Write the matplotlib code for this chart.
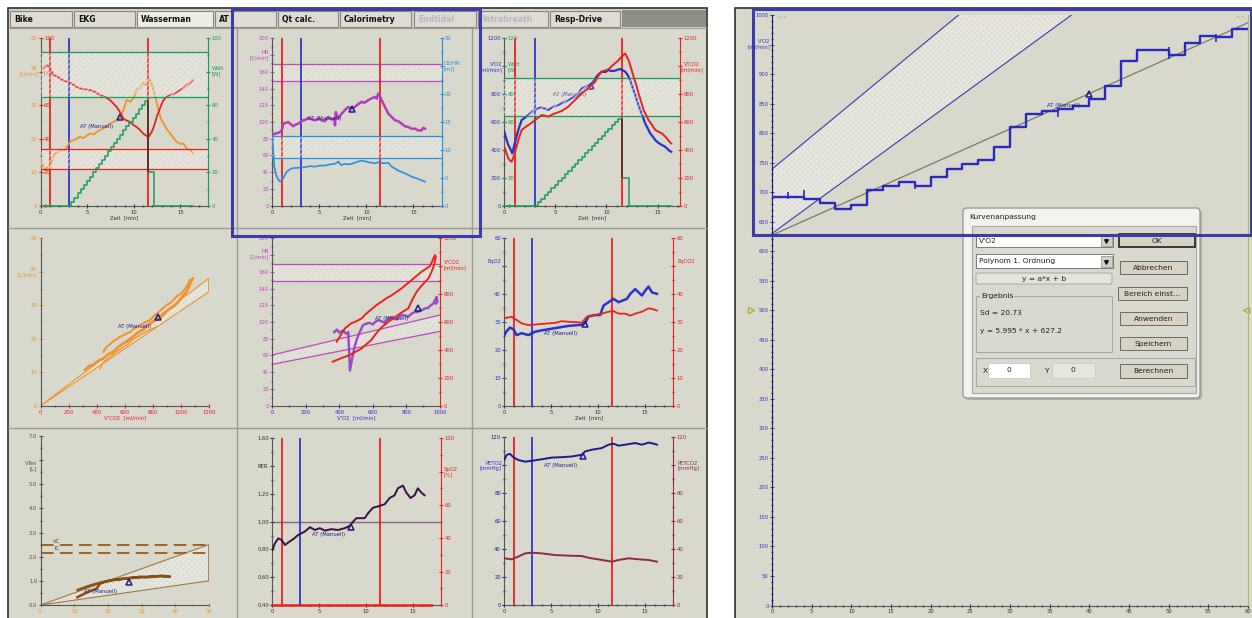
import matplotlib
matplotlib.use('Agg')
import matplotlib.pyplot as plt
from matplotlib.patches import Rectangle, FancyBboxPatch, Polygon
from matplotlib.ticker import MultipleLocator

# ======================= DATA =======================
T_START, T_AT, T_END = 1.0, 3.0, 11.5          # marker lines [min]
AT_TXT = 'AT (Manuell)'

# work-rate ramp (steps) [min] / [W]
watt_t = [0, 3.30, 3.63, 3.96, 4.28, 4.61, 4.94, 5.27, 5.60, 5.92, 6.25, 6.58, 6.91, 7.24, 7.56,
          7.89, 8.22, 8.55, 8.88, 9.20, 9.53, 9.86, 10.19, 10.52, 10.84, 11.17, 11.5, 12.2, 16.4]
watt_w = [0, 2.5, 5.0, 7.5, 10.0, 12.5, 15.0, 17.5, 20.0, 22.5, 25.0, 27.5, 30.0, 32.5, 35.0,
          37.5, 40.0, 42.5, 45.0, 47.5, 50.0, 52.5, 55.0, 57.5, 60.0, 62.5, 20, 0, 0]
watt_peak, watt_recovery = 62.5, 20

# panel 1: VE and red trace
ve_t = [0, 0.2, 0.47, 0.7, 1.0, 1.2, 1.54, 1.9, 2.3, 2.61, 3.15, 3.5, 3.9, 4.22, 4.6, 5.0, 5.3, 5.7,
        6.0, 6.37, 6.8, 7.1, 7.45, 7.8, 8.2, 8.52, 8.88, 9.24, 9.6, 9.95, 10.31, 10.7, 11.03, 11.3,
        11.67, 11.9, 12.1, 12.4, 12.64, 12.9, 13.18, 13.5, 13.9, 14.2, 14.6, 15.0, 15.3, 15.6, 15.86,
        16.1, 16.33]
ve = [13.6, 12.5, 10.7, 11.5, 11.2, 13.5, 15.6, 16.0, 16.8, 16.6, 19.1, 19.6, 20.0, 20.6, 20.2, 21.0,
      21.6, 21.3, 22.0, 22.6, 23.2, 23.8, 24.6, 25.0, 25.6, 26.1, 28.6, 31.6, 31.0, 32.0, 34.6, 35.2,
      36.6, 36.0, 38.0, 36.5, 34.6, 31.5, 28.6, 26.0, 24.6, 23.0, 21.6, 20.5, 19.1, 18.5, 18.6, 17.5,
      16.6, 16.8, 15.6]
p1r_t = [0, 0.3, 0.64, 0.85, 1.0, 1.36, 1.8, 2.3, 2.79, 3.3, 3.8, 4.22, 4.7, 5.3, 5.8, 6.37, 6.9, 7.45,
         7.8, 8.16, 8.5, 8.88, 9.2, 9.6, 10.0, 10.31, 10.7, 11.03, 11.3, 11.56, 11.92, 12.2, 12.46, 12.8,
         13.18, 13.5, 13.9, 14.4, 14.97, 15.3, 15.68, 16.0, 16.33]
p1r = [81, 82, 84, 83, 82, 78, 77, 75, 74, 73, 71, 70, 69.5, 69, 68, 66, 65, 63, 61, 59, 56, 52, 51, 50,
       48, 47, 45, 43, 42, 41, 44, 48, 53, 58, 63, 65, 66, 67, 69, 70, 72, 73, 75]
p1_watt_band = [91.4, 64.7]
p1_red_band = [33.7, 21.9]
p1_at = (8.5, 26.4)

# panel 2: HR and O2/HR
hr_t = [0, 0.28, 0.6, 0.82, 1.0, 1.17, 1.45, 1.70, 2.0, 2.23, 2.5, 2.77, 3.0, 3.30, 3.6, 3.83, 4.2, 4.54,
        4.9, 5.25, 5.6, 5.96, 6.3, 6.6, 6.67, 6.75, 7.0, 7.38, 7.7, 8.09, 8.4, 8.79, 9.1, 9.50, 9.8,
        10.21, 10.5, 10.92, 11.1, 11.28, 11.45, 11.63, 11.9, 12.34, 12.7, 13.05, 13.4, 13.76, 14.1,
        14.47, 14.8, 15.18, 15.5, 15.89, 16.05, 16.24]
hr = [84.5, 86, 87, 88, 90, 98, 99, 100, 97, 95, 97, 98, 100, 102, 103, 105, 103, 102, 104, 102, 101,
      106, 103, 104, 96, 112, 104, 110, 114, 118, 116, 118, 121, 124, 123, 126, 128, 130, 128, 134, 131,
      126, 120, 110, 106, 102, 101, 98, 95, 94, 92, 92, 90, 90, 93, 92]
o2hr_t = [0, 0.21, 0.46, 0.82, 1.17, 1.53, 2.06, 2.77, 3.48, 4.0, 4.54, 5.1, 5.6, 6.1, 6.67, 7.02, 7.3,
          7.73, 8.2, 8.79, 9.5, 10.21, 10.92, 11.3, 11.8, 12.34, 12.7, 13.4, 14.1, 14.82, 15.53, 16.24]
o2hr = [12.4, 7.0, 5.2, 4.3, 4.9, 6.1, 6.7, 6.8, 6.9, 7.1, 7.0, 7.2, 7.2, 7.4, 7.5, 7.9, 7.3, 7.5, 7.4,
        7.7, 8.1, 7.8, 7.6, 7.8, 7.6, 7.7, 7.0, 6.3, 5.8, 5.2, 4.8, 4.3]
p2_hr_band = [169, 149]
p2_o2hr_band = [12.5, 8.6]
p2_at = (8.44, 116)

# panel 3: VO2 / VCO2 over time
vo2_t = [0, 0.23, 0.39, 0.65, 0.78, 0.98, 1.37, 1.70, 2.0, 2.35, 2.7, 3.0, 3.3, 3.66, 4.0, 4.31, 4.6,
         4.97, 5.3, 5.62, 5.95, 6.27, 6.6, 6.93, 7.25, 7.58, 7.9, 8.24, 8.56, 8.89, 9.2, 9.54, 9.9, 10.2,
         10.5, 10.85, 11.1, 11.34, 11.6, 11.83, 12.1, 12.32, 12.55, 12.81, 13.05, 13.3, 13.55, 13.79,
         14.0, 14.28, 14.5, 14.77, 15.1, 15.42, 15.7, 15.92, 16.15, 16.34]
vo2 = [531, 471, 435, 399, 375, 435, 543, 614, 630, 650, 672, 686, 700, 703, 695, 686, 700, 715, 722,
       734, 745, 758, 770, 782, 800, 841, 850, 865, 877, 913, 940, 961, 958, 973, 965, 968, 975, 980,
       970, 961, 935, 901, 850, 794, 740, 686, 640, 590, 560, 519, 500, 471, 450, 435, 425, 411, 395, 387]
vco2_t = [0, 0.2, 0.39, 0.55, 0.72, 0.98, 1.37, 1.70, 2.0, 2.35, 2.7, 3.0, 3.3, 3.66, 4.0, 4.31, 4.6,
          4.97, 5.3, 5.62, 5.95, 6.27, 6.6, 6.93, 7.25, 7.58, 7.9, 8.24, 8.56, 8.89, 9.2, 9.54, 9.9,
          10.2, 10.5, 10.85, 11.2, 11.5, 11.83, 12.16, 12.4, 12.65, 12.9, 13.14, 13.4, 13.63, 13.9,
          14.12, 14.45, 14.77, 15.1, 15.42, 15.7, 15.92, 16.15, 16.34]
vco2 = [423, 380, 339, 325, 315, 363, 471, 543, 560, 578, 595, 614, 630, 650, 645, 638, 650, 662, 670,
        679, 695, 710, 735, 758, 780, 806, 825, 841, 865, 889, 930, 961, 970, 978, 1000, 1021, 1045,
        1068, 1092, 1045, 990, 925, 870, 806, 745, 686, 650, 614, 580, 543, 530, 519, 500, 483, 460, 447]
p3_watt_band = [91.6, 64.5]
p3_at = (8.5, 861)

# panel 4: VE vs VCO2
p4_up_vco2 = [317, 345, 376, 410, 448, 480, 519, 555, 590, 625, 662, 700, 733, 770, 805, 840, 876, 910,
              948, 970, 995, 1020, 1043, 1065, 1086]
p4_up_ve = [10.7, 11.8, 12.2, 13.4, 14.1, 15.3, 16.1, 17.6, 18.6, 19.4, 20.6, 22.0, 22.6, 24.2, 25.1,
            26.0, 27.1, 28.6, 29.6, 30.4, 31.6, 33.0, 34.1, 36.2, 38.0]
p4_dn_vco2 = [1067, 1040, 1007, 975, 948, 925, 900, 870, 840, 810, 781, 745, 710, 685, 662, 640, 614,
              590, 567, 540, 519, 495, 471, 460, 448]
p4_dn_ve = [37.6, 35.5, 33.6, 32.8, 31.6, 30.6, 30.1, 29.0, 27.9, 26.9, 25.6, 24.9, 24.1, 23.4, 22.9,
            22.0, 21.6, 21.0, 20.6, 19.8, 19.3, 18.3, 17.6, 16.9, 16.1]
p4_lo_vco2 = [424, 440, 470, 495, 550, 614, 660, 710, 770, 829]
p4_lo_ve = [11.0, 12.6, 13.8, 14.6, 16.4, 18.1, 19.8, 21.1, 22.5, 23.6]
p4_ref_vco2 = [0, 1200, 1200]
p4_ref_ve = [0, 38, 34]
p4_at = (840, 26.5)

# panel 5: HR and VCO2 vs VO2
p5_red_vo2 = [360, 380, 400, 434, 460, 480, 510, 533, 560, 590, 612, 650, 692, 720, 750, 780, 811, 835,
              861, 890, 931, 950, 965, 975, 970, 955, 940, 915, 891, 860, 830, 800, 771, 740, 710, 680,
              652, 620, 590, 560, 533, 500, 470, 434, 410, 384]
p5_red_vco2 = [315, 325, 335, 351, 362, 375, 395, 411, 440, 470, 507, 560, 602, 625, 650, 675, 698, 760,
               817, 860, 913, 960, 1010, 1065, 1080, 1040, 1000, 980, 961, 930, 900, 870, 841, 815, 790,
               770, 746, 720, 690, 660, 626, 605, 590, 555, 510, 459]
p5_hr_vo2 = [370, 385, 400, 420, 440, 453, 458, 463, 475, 490, 505, 517, 540, 560, 580, 600, 612, 630,
             650, 670, 692, 715, 740, 765, 791, 810, 830, 850, 867, 890, 910, 930, 945, 960, 970, 980,
             985, 975]
p5_hr = [88, 91, 87, 90, 86, 88, 65, 42, 55, 70, 80, 86, 96, 98, 99, 97, 100, 102, 101, 99, 104, 106,
         103, 108, 108, 106, 110, 112, 112, 114, 116, 117, 120, 122, 126, 130, 124, 122]
p5_hr_band = [169.3, 149.4]
p5_ref_vo2 = [0, 1000]
p5_ref_hr_hi = [60.6, 108.4]
p5_ref_hr_lo = [49.4, 88.8]
p5_at = (867, 116.3)

# panel 6: EqO2 / EqCO2
eqo2_t = [0, 0.25, 0.6, 0.96, 1.32, 1.85, 2.56, 3.27, 3.99, 4.7, 5.77, 6.83, 7.54, 8.26, 8.61, 8.97,
          9.68, 10.21, 10.57, 11.1, 11.64, 12.17, 12.53, 13.06, 13.42, 13.95, 14.31, 14.66, 15.02,
          15.37, 15.73, 16.26]
eqo2 = [25.3, 26.7, 28, 27.4, 25.3, 26, 25.3, 26.5, 27, 27.4, 28, 28.6, 28.8, 29, 29.6, 32, 32.5, 32.5,
        35.9, 37.1, 38.3, 37.1, 37.6, 38.3, 40.1, 41.8, 40.6, 39.5, 41.3, 42.7, 40.6, 40.1]
eqco2_t = [0, 0.78, 1.32, 1.85, 2.56, 3.99, 5.41, 6.12, 7.19, 8.26, 8.79, 9.68, 10.39, 11.1, 11.64,
           12.17, 12.88, 13.42, 13.95, 14.66, 15.37, 15.73, 16.26]
eqco2 = [31.3, 31.9, 30.7, 29.5, 28.9, 29.3, 29.7, 30.3, 30, 29.8, 31.9, 32.5, 33, 33.7, 33.9, 33, 33,
         32.3, 33, 33.7, 34.9, 34.7, 34.1]
p6_at = (8.6, 29.2)

# panel 7: VT vs VE
p7_ve = [10.9, 12.3, 13.7, 15.2, 16.7, 17.7, 19.6, 21.6, 23.5, 25.6, 27.5, 29.6, 31.5, 33.5, 35.5, 37.5,
         38.5, 36.0, 33.0, 30.0, 27.0, 24.0, 21.0, 18.5, 16.0, 13.5, 11.0]
p7_vt = [0.32, 0.42, 0.51, 0.6, 0.69, 0.89, 0.98, 1.04, 1.06, 1.11, 1.13, 1.17, 1.16, 1.19, 1.2, 1.17,
         1.18, 1.21, 1.16, 1.15, 1.12, 1.08, 1.02, 0.95, 0.86, 0.75, 0.62]
p7_ref_ve = [0, 50, 50]
p7_ref_vt = [0, 2.5, 1.0]
VC, IC = 2.5, 2.15
p7_at = (26.4, 0.94)

# panel 8: RER / SpO2
rer_t = [0, 0.28, 0.64, 0.99, 1.35, 1.70, 2.23, 2.77, 3.48, 4.01, 4.54, 5.07, 5.6, 6.31, 7.02, 7.73,
         8.26, 8.62, 8.97, 9.86, 10.21, 10.74, 11.28, 11.99, 12.52, 13.05, 13.4, 13.94, 14.29, 14.75,
         15.18, 15.53, 15.89, 16.24]
rer = [0.796, 0.844, 0.88, 0.868, 0.832, 0.85, 0.874, 0.905, 0.929, 0.96, 0.94, 0.953, 0.936, 0.946,
       0.94, 0.953, 0.97, 1.0, 1.025, 1.025, 1.06, 1.1, 1.11, 1.125, 1.17, 1.19, 1.24, 1.26, 1.21, 1.17,
       1.19, 1.24, 1.21, 1.19]
spo2_t = [0, 16.9]
spo2 = [0, 0]
p8_at = (8.44, 0.964)

# panel 9: PETO2 / PETCO2
peto2_t = [0, 0.25, 0.6, 0.96, 1.49, 2.21, 3.1, 3.99, 5.05, 6.12, 7.19, 8.26, 8.61, 9.32, 10.39, 11.1,
           11.64, 12.17, 12.88, 13.95, 14.66, 15.37, 15.91, 16.26]
peto2 = [103.4, 107, 107.8, 105.4, 103.4, 102.2, 103, 103.9, 105.1, 105.4, 105.9, 107.1, 109.5, 110.7,
         111.9, 114.3, 115, 113.6, 114.3, 115.5, 114.3, 115.8, 115, 114.3]
petco2_t = [0, 0.78, 1.49, 2.21, 2.99, 3.99, 5.41, 6.83, 8.26, 8.97, 10.39, 11.46, 12.17, 13.24, 14.31,
            15.37, 16.26]
petco2 = [33.3, 32.6, 34.5, 36.8, 37.3, 36.8, 35.6, 35.2, 34.9, 33.7, 32.1, 30.9, 32.1, 33.3, 32.6,
          32.1, 30.9]
p9_at = (8.43, 106.2)

# right screenshot: V'O2 steps + linear fit
rp_x = [0, 2, 4, 6, 8, 10, 12, 14, 16, 18, 20, 22, 24, 26, 28, 30, 32, 34, 36, 38, 40, 42, 44, 46, 48,
        50, 52, 54, 56, 58, 60]
rp_vo2 = [691, 692, 689, 681, 672, 678, 703, 710, 718, 710, 726, 740, 748, 754, 776, 811, 832, 838, 840,
          846, 858, 880, 922, 940, 940, 932, 953, 965, 962, 976, 976]
rp_spk_x = [2, 4, 18, 36, 50, 56]
rp_spk_lo = [689, 688, 705, 828, 925, 955]
rp_spk_hi = [700, 703, 718, 840, 945, 968]
fit_a, fit_b = 5.995, 627.2
fit_x = [0, 60]
band_x = [0, 60]
band_hi = [739, 1405]
band_lo = [630, 1218]
rp_at = (40, 866)
rp_yticks = list(range(0, 1001, 50))
rp_ylabels = ['' if v == 950 else str(v) for v in rp_yticks]

# ======================= STYLE =======================
plt.rcParams['font.family'] = ['DejaVu Sans']
plt.rcParams['hatch.linewidth'] = 0.5
W, H = 1252, 618
BG = '#d8d8cd'
DARK = '#303030'
ORANGE = '#f0922c'
RED = '#e8221c'
GREEN = '#1c9a5c'
BLUEV = '#3038c8'
BLUE = '#2a32c8'
NAVY = '#1c1c8a'
MAGENTA = '#c048c0'
LBLUE = '#2a8ee0'
PURPLE = '#9a48c4'
MAROON = '#902848'
BROWN = '#9a5a14'
HATCH = '#ecece5'
FACE = (1, 1, 1, 0.16)
FS = 3.8

fig = plt.figure(figsize=(W / 100, H / 100), dpi=100, facecolor='white')


def rect(x0, y0, x1, y1):
    return [x0 / W, 1 - y1 / H, (x1 - x0) / W, (y1 - y0) / H]


# ---------------- background / frames ----------------
bg = fig.add_axes([0, 0, 1, 1])
bg.set_zorder(0)
bg.set_xlim(0, W); bg.set_ylim(H, 0); bg.axis('off')
bg.add_patch(Rectangle((8, 8), 699, 612, facecolor=BG, edgecolor='#303030', lw=1.2))
bg.add_patch(Rectangle((735, 8), 519, 612, facecolor=BG, edgecolor='#303030', lw=1.2))
bg.add_patch(Rectangle((9, 9), 697, 19, facecolor='#d4d0c8', edgecolor='none'))
bg.add_patch(Rectangle((622, 10), 84, 17, facecolor='#8e8e86', edgecolor='none'))
tabs = [('Bike', 10, 72, 'n'), ('EKG', 74, 135, 'n'), ('Wasserman', 137, 213, 'a'), ('AT', 215, 276, 'n'),
        ('Qt calc.', 278, 338, 'n'), ('Calorimetry', 340, 411, 'n'), ('Endtidal', 414, 476, 'd'),
        ('Intrabreath', 478, 548, 'd'), ('Resp-Drive', 550, 620, 'n')]
for name, x0, x1, st in tabs:
    fc = '#eeede6' if st == 'a' else '#dedbd2'
    bg.add_patch(Rectangle((x0, 11), x1 - x0, 16, facecolor=fc, edgecolor='#8a8a84', lw=0.8))
    bg.text(x0 + 4, 19.5, name, fontsize=5.6, fontweight='bold', va='center', ha='left',
            color='#b8b8c4' if st == 'd' else '#101010')
bg.hlines([228, 428], 8, 707, color='#9c9c94', lw=1.0)
bg.vlines([237, 472], 28, 618, color='#9c9c94', lw=1.0)
bg.hlines(28, 8, 707, color='#9c9c94', lw=0.8)


def lab(x, y, s, col, ha='right'):
    bg.text(x, y, s, color=col, fontsize=FS, ha=ha, va='center', linespacing=1.05)


# ---------------- helpers ----------------
def base_axes(px, xlim, ylim, xt, xminor, yt, ylab, yminor, ycol, xcol=DARK, xlab=None, xlabcol=None):
    ax = fig.add_axes(rect(*px))
    ax.set_zorder(2)
    ax.patch.set_visible(False)
    ax.set_xlim(*xlim); ax.set_ylim(*ylim)
    ax.spines[['top', 'right']].set_visible(False)
    ax.spines[['left', 'bottom']].set_color('#555555')
    ax.spines[['left', 'bottom']].set_linewidth(0.8)
    ax.set_xticks(xt)
    ax.set_xticklabels([str(v) for v in xt])
    ax.xaxis.set_minor_locator(MultipleLocator(xminor))
    ax.set_yticks(yt)
    ax.set_yticklabels(ylab)
    ax.yaxis.set_minor_locator(MultipleLocator(yminor))
    ax.tick_params(axis='x', which='both', colors=xcol, labelsize=FS, pad=1.2, direction='inout')
    ax.tick_params(axis='y', which='both', colors=ycol, labelsize=FS, pad=0.8, direction='inout')
    ax.tick_params(which='major', length=3.2, width=0.8)
    ax.tick_params(which='minor', length=1.6, width=1.0)
    if xlab:
        ax.set_xlabel(xlab, fontsize=FS, color=xlabcol or xcol, labelpad=0.6)
    return ax


def twin_axis(ax, ylim, yt, ylab, col, inner=False, yminor=None):
    a = ax.twinx()
    a.set_zorder(2)
    a.patch.set_visible(False)
    a.set_ylim(*ylim)
    for s in a.spines.values():
        s.set_visible(False)
    if inner:
        a.spines['right'].set_position(('axes', 0))
    else:
        a.spines['right'].set_visible(True)
        a.spines['right'].set_color(col)
        a.spines['right'].set_linewidth(0.8)
    a.set_yticks(yt)
    a.set_yticklabels(ylab)
    if yminor:
        a.yaxis.set_minor_locator(MultipleLocator(yminor))
    a.tick_params(axis='y', which='both', colors=col, labelsize=FS, pad=0.8, direction='inout')
    a.tick_params(which='major', length=3.2, width=0.8)
    a.tick_params(which='minor', length=1.6, width=1.0)
    return a


def time_marks(ax):
    ax.axvline(T_START, color=RED, lw=1.3, zorder=3)
    ax.axvline(T_AT, color=BLUEV, lw=1.3, zorder=3)
    ax.axvline(T_END, color=RED, lw=1.3, zorder=3)


def hband(ax, ys, col):
    ax.axhspan(min(ys), max(ys), facecolor=FACE, edgecolor=HATCH, hatch='//////', lw=0, zorder=0.5)
    for y in ys:
        ax.axhline(y, color=col, lw=0.9, zorder=1)


def at_mark(ax, pos, tx, ty, ha='center'):
    ax.plot([pos[0]], [pos[1]], marker='^', ms=5, mfc='none', mec=NAVY, mew=1.1, zorder=6)
    ax.text(tx, ty, AT_TXT, color=NAVY, fontsize=FS, ha=ha, va='center', zorder=6)


def ref_polygon(ax, xs, ys, col):
    pts = list(zip(xs, ys))
    ax.add_patch(Polygon(pts, closed=True, facecolor=FACE, edgecolor=HATCH, hatch='xxxxxx', lw=0, zorder=0.5))
    ax.add_patch(Polygon(pts, closed=True, facecolor='none', edgecolor=col, lw=0.8, zorder=1))


t_ticks = [0, 5, 10, 15]

# ---------------- Panel 1 ----------------
ax1 = base_axes((40.7, 38, 208.3, 206), (0, 18), (0, 50), t_ticks, 1, [0, 10, 20, 30, 40, 50],
                ['0', '10', '20', '30', '', '50'], 5, ORANGE, xlab='Zeit  [min]')
ax1i = twin_axis(ax1, (0, 100), [0, 20, 40, 60, 80, 100], ['0', '20', '40', '60', '', '100'], RED, inner=True)
ax1r = twin_axis(ax1, (0, 100), [0, 20, 40, 60, 80, 100], ['0', '20', '40', '60', '', '100'], GREEN, yminor=10)
hband(ax1r, p1_watt_band, GREEN)
hband(ax1i, p1_red_band, RED)
time_marks(ax1)
ax1r.plot(watt_t, watt_w, color=GREEN, lw=1.1, drawstyle='steps-post', zorder=2, clip_on=False)
ax1r.vlines(T_END, watt_recovery, watt_peak, color='#6a2a1a', lw=1.3, zorder=4)
ax1.plot(ve_t, ve, color=ORANGE, lw=1.3, zorder=4)
ax1i.plot(p1r_t, p1r, color=RED, lw=1.3, zorder=4)
at_mark(ax1, p1_at, 6.0, 23.6)
lab(38, 71, 'VE\n[L/min]', ORANGE)
lab(44, 73, '[%]', RED, ha='left')
lab(212, 71, 'Watt\n[W]', GREEN, ha='left')

# ---------------- Panel 2 ----------------
ax2 = base_axes((272.3, 38.3, 441.5, 205.7), (0, 18), (0, 200), t_ticks, 1, list(range(0, 201, 20)),
                ['0', '20', '40', '60', '80', '100', '120', '140', '160', '', '200'], 10, MAGENTA,
                xlab='Zeit  [min]')
ax2r = twin_axis(ax2, (0, 30), [0, 5, 10, 15, 20, 25, 30], ['0', '5', '10', '15', '20', '', '30'], LBLUE,
                 yminor=2.5)
hband(ax2, p2_hr_band, MAGENTA)
hband(ax2r, p2_o2hr_band, LBLUE)
time_marks(ax2)
ax2.plot(hr_t, hr, color='#b43cb8', lw=1.8, zorder=4)
ax2r.plot(o2hr_t, o2hr, color=LBLUE, lw=1.2, zorder=4)
at_mark(ax2, p2_at, 5.6, 104)
lab(269, 55, 'HR\n[1/min]', MAGENTA)
lab(444, 66, 'O2/HR\n[ml]', LBLUE, ha='left')

# ---------------- Panel 3 ----------------
ax3 = base_axes((504.3, 38.3, 680, 205.7), (0, 17.2), (0, 1200), t_ticks, 1, list(range(0, 1201, 200)),
                ['0', '200', '400', '600', '800', '', '1200'], 100, BLUE, xlab='Zeit  [min]')
ax3i = twin_axis(ax3, (0, 120), [0, 20, 40, 60, 80, 100, 120], ['0', '20', '', '60', '80', '', '120'],
                 GREEN, inner=True)
ax3r = twin_axis(ax3, (0, 1200), list(range(0, 1201, 200)), ['0', '200', '400', '600', '800', '', '1200'],
                 RED, yminor=100)
hband(ax3i, p3_watt_band, GREEN)
time_marks(ax3)
ax3i.plot(watt_t, watt_w, color=GREEN, lw=1.1, drawstyle='steps-post', zorder=2, clip_on=False)
ax3i.vlines(T_END, watt_recovery, watt_peak, color='#6a2a1a', lw=1.3, zorder=4)
ax3r.plot(vco2_t, vco2, color=RED, lw=1.4, zorder=4)
ax3.plot(vo2_t, vo2, color=BLUE, lw=1.6, zorder=4)
at_mark(ax3, p3_at, 6.4, 798)
lab(502, 67, "V'O2\n[ml/min]", BLUE)
lab(508, 67, 'Watt\n[W]', GREEN, ha='left')
lab(692, 67, "V'CO2\n[ml/min]", RED, ha='center')

# ---------------- Panel 4 ----------------
ax4 = base_axes((40.7, 238.3, 208.7, 405.7), (0, 1200), (0, 50), list(range(0, 1201, 200)), 100,
                [0, 10, 20, 30, 40, 50], ['0', '10', '20', '30', '', '50'], 5, ORANGE, xcol=RED,
                xlab="V'CO2  [ml/min]")
ref_polygon(ax4, p4_ref_vco2, p4_ref_ve, ORANGE)
ax4.plot(p4_lo_vco2, p4_lo_ve, color=ORANGE, lw=1.0, zorder=3)
ax4.plot(p4_dn_vco2, p4_dn_ve, color=ORANGE, lw=1.4, zorder=3)
ax4.plot(p4_up_vco2, p4_up_ve, color=ORANGE, lw=1.9, zorder=4)
at_mark(ax4, p4_at, 674, 23.6)
lab(37, 272, 'VE\n[L/min]', ORANGE)

# ---------------- Panel 5 ----------------
ax5 = base_axes((272.3, 238.3, 440, 405.7), (0, 1000), (0, 200), list(range(0, 1001, 200)), 100,
                list(range(0, 201, 20)), ['0', '20', '40', '60', '80', '100', '120', '140', '160', '', '200'],
                10, MAGENTA, xcol=BLUE, xlab="V'O2  [ml/min]")
ax5r = twin_axis(ax5, (0, 1200), list(range(0, 1201, 200)), ['0', '200', '400', '600', '800', '', '1200'],
                 RED, yminor=100)
hband(ax5, p5_hr_band, MAGENTA)
ax5.fill_between(p5_ref_vo2, p5_ref_hr_lo, p5_ref_hr_hi, facecolor=FACE, edgecolor=HATCH,
                 hatch='//////', lw=0, zorder=0.5)
ax5.plot(p5_ref_vo2, p5_ref_hr_hi, color=MAGENTA, lw=0.9, zorder=1)
ax5.plot(p5_ref_vo2, p5_ref_hr_lo, color=MAGENTA, lw=0.9, zorder=1)
ax5r.plot(p5_red_vo2, p5_red_vco2, color=RED, lw=1.4, zorder=4)
ax5.plot(p5_hr_vo2, p5_hr, color=PURPLE, lw=1.7, zorder=4)
at_mark(ax5, p5_at, 712, 104)
lab(269, 254, 'HR\n[1/min]', MAGENTA)
lab(444, 265, "V'CO2\n[ml/min]", RED, ha='left')

# ---------------- Panel 6 ----------------
ax6 = base_axes((504.3, 238.3, 673.3, 405.7), (0, 18), (0, 60), t_ticks, 1, list(range(0, 61, 10)),
                ['0', '10', '20', '30', '40', '', '60'], 5, BLUE, xlab='Zeit  [min]')
ax6r = twin_axis(ax6, (0, 60), list(range(0, 61, 10)), ['0', '10', '20', '30', '40', '', '60'], RED,
                 yminor=5)
time_marks(ax6)
ax6r.plot(eqco2_t, eqco2, color=RED, lw=1.3, zorder=4)
ax6.plot(eqo2_t, eqo2, color=BLUE, lw=1.8, zorder=4)
at_mark(ax6, p6_at, 6.0, 26.0)
lab(502, 262, 'EqO2', BLUE)
lab(677, 262, 'EqCO2', RED, ha='left')

# ---------------- Panel 7 ----------------
ax7 = base_axes((40.7, 436, 208.7, 605), (0, 50), (0, 7), [0, 10, 20, 30, 40, 50], 5, list(range(0, 8)),
                ['0.0', '1.0', '2.0', '3.0', '4.0', '5.0', '', '7.0'], 0.5, '#5a4a3a', xcol=ORANGE)
ref_polygon(ax7, p7_ref_ve, p7_ref_vt, '#a07840')
ax7.axhline(VC, color=BROWN, lw=1.3, ls=(0, (7, 3.5)), zorder=2)
ax7.axhline(IC, color=BROWN, lw=1.3, ls=(0, (7, 3.5)), zorder=2)
ax7.text(4.8, VC + 0.15, 'VC', fontsize=FS, color='#5a3a10', ha='center', va='center')
ax7.text(4.8, IC + 0.18, 'IC', fontsize=FS, color='#5a3a10', ha='center', va='center')
ax7.plot(p7_ve, p7_vt, color='#8a5010', lw=1.8, zorder=4)
at_mark(ax7, p7_at, 17.7, 0.55)
lab(37, 466, 'VTex\n[L]', '#5a4a3a')

# ---------------- Panel 8 ----------------
ax8 = base_axes((272.3, 438.3, 441, 605), (0, 18), (0.4, 1.6), t_ticks, 1,
                [0.4, 0.6, 0.8, 1.0, 1.2, 1.4, 1.6], ['0.40', '0.60', '0.80', '1.00', '1.20', '', '1.60'],
                0.1, DARK)
ax8r = twin_axis(ax8, (0, 100), list(range(0, 101, 20)), ['0', '20', '40', '60', '', '100'], RED, yminor=10)
ax8.axhline(1.0, color='#8a6a80', lw=1.0, zorder=1)
time_marks(ax8)
ax8r.plot(spo2_t, spo2, color=RED, lw=1.8, zorder=3, clip_on=False)
ax8.plot(rer_t, rer, color='#3a1040', lw=1.4, zorder=4)
at_mark(ax8, p8_at, 5.96, 0.904)
lab(268, 467, 'RER', DARK)
lab(444, 472, 'SpO2\n[%]', RED, ha='left')

# ---------------- Panel 9 ----------------
ax9 = base_axes((504.3, 436.7, 673.3, 605), (0, 18), (0, 120), t_ticks, 1, list(range(0, 121, 20)),
                ['0', '20', '40', '60', '80', '', '120'], 10, NAVY)
ax9r = twin_axis(ax9, (0, 120), list(range(0, 121, 20)), ['0', '20', '40', '60', '80', '', '120'], MAROON,
                 yminor=10)
time_marks(ax9)
ax9.plot(peto2_t, peto2, color=NAVY, lw=1.4, zorder=4)
ax9r.plot(petco2_t, petco2, color=MAROON, lw=1.4, zorder=4)
at_mark(ax9, p9_at, 5.96, 99.8)
lab(502, 466, 'PETO2\n[mmHg]', BLUE)
lab(677, 466, 'PETCO2\n[mmHg]', MAROON, ha='left')

# ---------------- Right screenshot ----------------
axR = base_axes((772, 15, 1248, 605.5), (0, 60), (0, 1000), list(range(0, 61, 5)), 1,
                rp_yticks, rp_ylabels, 10, '#3a3ac0')
axR.spines['left'].set_color('#202060')
axR.spines['right'].set_visible(True)
axR.spines['right'].set_color('#b8b860')
axR.fill_between(band_x, band_lo, band_hi, facecolor=FACE, edgecolor=HATCH, hatch='xxxxxx',
                 lw=0, zorder=0.5)
axR.plot(band_x, band_hi, color='#3838b0', lw=0.8, zorder=1)
axR.plot(band_x, band_lo, color='#3838b0', lw=0.8, zorder=1)
axR.plot(fit_x, [fit_a * x + fit_b for x in fit_x], color='#7a7a66', lw=0.9, zorder=2)
axR.plot(rp_x, rp_vo2, color='#2a2ac0', lw=1.7, drawstyle='steps-post', zorder=3)
axR.vlines(rp_spk_x, rp_spk_lo, rp_spk_hi, color='#2a2ac0', lw=1.2, zorder=3)
at_mark(axR, rp_at, 36.7, 846)
lab(770, 44, "V'O2\n[ml/min]", '#3a3ac0')
bg.text(778, 17, '> >', fontsize=3.2, color='#a0a040', va='center')
bg.text(1236, 17, '< <', fontsize=3.2, color='#a0a040', va='center')
bg.plot([751], [310], marker='>', ms=5, mfc='none', mec='#b0b040', mew=1.0)
bg.plot([1246], [310], marker='<', ms=5, mfc='none', mec='#b0b040', mew=1.0)

# ---------------- overlay: dialog + highlight frames ----------------
ov = fig.add_axes([0, 0, 1, 1])
ov.set_zorder(10)
ov.set_xlim(0, W); ov.set_ylim(H, 0); ov.axis('off')
DFS = 5.4
ov.add_patch(FancyBboxPatch((965, 210), 237, 190, boxstyle='round,pad=0,rounding_size=4',
                            facecolor='#8a8a84', edgecolor='none', alpha=0.5))
ov.add_patch(FancyBboxPatch((963, 208), 237, 190, boxstyle='round,pad=0,rounding_size=4',
                            facecolor='#f2f2ee', edgecolor='#9a9a9a', lw=1.0))
ov.text(969, 217, 'Kurvenanpassung', fontsize=DFS, color='#202020', va='center')
ov.add_patch(Rectangle((972, 226), 224, 167, facecolor='#d9d9d0', edgecolor='#a8a8a0', lw=0.8))


def button(x0, y0, x1, y1, text, focus=False):
    ov.add_patch(Rectangle((x0, y0), x1 - x0, y1 - y0, facecolor='#d6d2c4',
                           edgecolor='#202020' if focus else '#6a6a64', lw=1.2 if focus else 0.7))
    ov.text((x0 + x1) / 2, (y0 + y1) / 2 + 0.3, text, ha='center', va='center', fontsize=DFS, color='#202020')


def combo(x0, y0, x1, y1, text):
    ov.add_patch(Rectangle((x0, y0), x1 - x0, y1 - y0, facecolor='white', edgecolor='#7a7a7a', lw=0.7))
    ov.add_patch(Rectangle((x1 - 12, y0 + 1.5), 10.5, y1 - y0 - 3, facecolor='#d4d0c8', edgecolor='#8a8a8a',
                           lw=0.5))
    ov.plot([x1 - 6.75], [(y0 + y1) / 2 + 0.5], marker='v', ms=2.6, color='#101010')
    ov.text(x0 + 3, (y0 + y1) / 2 + 0.3, text, va='center', fontsize=DFS, color='#202020')


combo(976, 234, 1113, 247, "V'O2")
combo(976, 254, 1113, 268, 'Polynom 1. Ordnung')
button(1119, 234, 1195, 247, 'OK', focus=True)
button(1120, 261, 1187, 274, 'Abbrechen')
ov.add_patch(FancyBboxPatch((976, 273), 136, 11, boxstyle='round,pad=0,rounding_size=2',
                            facecolor='#e4e4dc', edgecolor='#a0a0a0', lw=0.6))
ov.text(1044, 278.8, 'y = a*x + b', ha='center', va='center', fontsize=DFS, color='#202020')
ov.add_patch(Rectangle((976, 296), 136, 56, facecolor='none', edgecolor='#a8a8a0', lw=0.7))
ov.text(981, 296, 'Ergebnis', fontsize=DFS, color='#202020', va='center',
        bbox=dict(facecolor='#d9d9d0', edgecolor='none', pad=0.5))
ov.text(980, 313, 'Sd = 20.73', fontsize=DFS, color='#202020', va='center')
ov.text(980, 331, 'y = 5.995 * x + 627.2', fontsize=DFS, color='#202020', va='center')
button(1118, 287, 1187, 300, 'Bereich einst...')
button(1120, 312, 1187, 325, 'Anwenden')
button(1120, 337, 1187, 350, 'Speichern')
ov.add_patch(Rectangle((976, 358), 219, 28, facecolor='none', edgecolor='#a8a8a0', lw=0.7))
ov.text(983, 371, 'X', fontsize=DFS, color='#202020', va='center')
ov.add_patch(Rectangle((988, 363), 42, 15, facecolor='white', edgecolor='#c0c0c0', lw=0.5))
ov.text(1009, 370.5, '0', fontsize=DFS, color='#202020', va='center', ha='center')
ov.text(1044, 371, 'Y', fontsize=DFS, color='#202020', va='center')
ov.add_patch(Rectangle((1052, 363), 43, 15, facecolor='#e6e6de', edgecolor='#c8c8c0', lw=0.5))
ov.text(1073, 370.5, '0', fontsize=DFS, color='#202020', va='center', ha='center')
button(1120, 364, 1187, 378, 'Berechnen')

# highlight frames
ov.add_patch(Rectangle((232, 9), 248, 227, facecolor='none', edgecolor='#3c3ca8', lw=2.2))
ov.add_patch(Rectangle((753, 9), 498, 226, facecolor='none', edgecolor='#3c3ca8', lw=2.2))

fig.savefig('out.png', dpi=100, facecolor='white')
